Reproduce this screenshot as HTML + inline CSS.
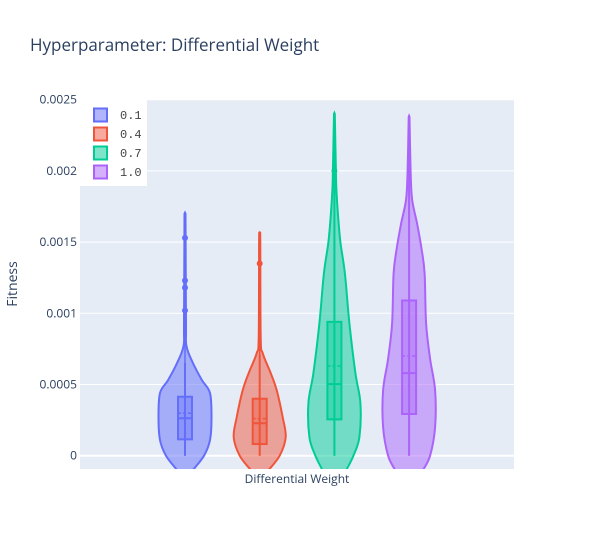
<!DOCTYPE html>
<html><head><meta charset="utf-8"><style>
body{margin:0;background:#fff;}
svg{display:block;font-family:"Open Sans","Liberation Sans",sans-serif;}
</style></head><body>
<svg id="chart" width="594" height="550" viewBox="0 0 594 550">
<rect x="0" y="0" width="594" height="550" fill="#fff"/>
<text x="30" y="51" font-size="17" fill="#2a3f5f">Hyperparameter: Differential Weight</text>
<rect x="80" y="100" width="434" height="369" fill="#e5ecf6"/>
<defs><clipPath id="pc"><rect x="80" y="100" width="434" height="369"/></clipPath></defs>
<g id="grid"></g>
<g id="violins" clip-path="url(#pc)"></g>
<g id="legend"></g>
<text x="297" y="483" font-size="12" fill="#2a3f5f" text-anchor="middle">Differential Weight</text>
<text x="17" y="284" font-size="14" fill="#2a3f5f" text-anchor="middle" transform="rotate(-90 17 284)">Fitness</text>
</svg>
<script>
const categories = ["0.1","0.4","0.7","1.0"];
const colors = ["#636efa","#ef553b","#00cc96","#ab63fa"];
const yTicks = [0,0.0005,0.001,0.0015,0.002,0.0025];
const yTickLabels = ["0","0.0005","0.001","0.0015","0.002","0.0025"];
// violin density profiles: values and relative half-widths
const profVals = [
 [-0.0001,0,0.00011,0.00027,0.00044,0.00053,0.00065,0.00077,0.00093,0.0017],
 [-0.0001,0,0.00013,0.00027,0.00046,0.00058,0.00072,0.00083,0.0015,0.00155],
 [-0.0001,0,0.00013,0.00037,0.00058,0.00093,0.00128,0.0015,0.0017,0.00187,0.002,0.0024],
 [-0.0001,0,0.0002,0.00046,0.00068,0.00093,0.00128,0.00145,0.00163,0.0018,0.002,0.00238]
];
const profDens = [
 [8,19,25,26.5,25,17,8,1.5,1,0.5],
 [9,20,26,23,17,11,3,1,0.6,0.3],
 [12,19,25,26,21,15,10.5,6,3.5,2,1.5,0.4],
 [14,21,26,26,21,17,15.5,12.5,8,3,1.5,0.4]
];
const q1 = [0.000115,0.000082,0.000255,0.000293];
const medians = [0.000263,0.000228,0.000503,0.00058];
const q3 = [0.000414,0.0004,0.00094,0.00109];
const means = [0.000298,0.00026,0.00063,0.0007];
const whiskLo = [0,0,0,0];
const whiskHi = [0.00065,0.00071,0.0024,0.00238];
const lineTop = [0.0017,0.00155,0.0024,0.00238];
const outliers = [[0.00153,0.00123,0.00118,0.00102],[0.00135],[0.002],[]];

const NS="http://www.w3.org/2000/svg";
const y = v => 455.7 - v/0.0005*71.2;
const xc = i => 185 + i*74.7;
function mk(tag, attrs, parent){const e=document.createElementNS(NS,tag);for(const k in attrs)e.setAttribute(k,attrs[k]);parent.appendChild(e);return e;}
const grid=document.getElementById('grid');
yTicks.forEach((t,i)=>{
  if(i>0){const l=mk('line',{x1:80,x2:514,y1:y(t),y2:y(t),stroke:'#fff','stroke-width':1},grid);
  
  }
  const tx=mk('text',{x:77,y:y(t)+4,'font-size':12,fill:'#2a3f5f','text-anchor':'end'},grid);
  tx.textContent=yTickLabels[i];
  
  
});
const zl=mk('line',{x1:80,x2:514,y1:y(0),y2:y(0),stroke:'#fff','stroke-width':2},grid);



function smooth(pts){
  let d=`M${pts[0][0]},${pts[0][1]}`;
  for(let i=0;i<pts.length-1;i++){
    const p0=pts[Math.max(i-1,0)],p1=pts[i],p2=pts[i+1],p3=pts[Math.min(i+2,pts.length-1)];
    const c1=[p1[0]+(p2[0]-p0[0])/6,p1[1]+(p2[1]-p0[1])/6];
    const c2=[p2[0]-(p3[0]-p1[0])/6,p2[1]-(p3[1]-p1[1])/6];
    d+=` C${c1[0]},${c1[1]} ${c2[0]},${c2[1]} ${p2[0]},${p2[1]}`;
  }
  return d;
}
const vg=document.getElementById('violins');
categories.forEach((c,i)=>{
  const cx=xc(i), col=colors[i];
  const g=mk('g',{},vg);
  
  
  const vals=profVals[i], dens=profDens[i];
  const right=vals.map((v,k)=>[cx+dens[k],y(v)]);
  const left=vals.map((v,k)=>[cx-dens[k],y(v)]).reverse();
  let d=smooth(right);
  d+=` L${cx},${y(vals[vals.length-1])-1} L${left[0][0]},${left[0][1]}`;
  d+=smooth(left).replace(/^M[^C]*/,' ');
  d+=` L${cx},${y(vals[0])+4} Z`;
  mk('path',{d:d,fill:col,'fill-opacity':0.5,stroke:col,'stroke-width':2},g);
  mk('line',{x1:cx,x2:cx,y1:y(lineTop[i]),y2:y(whiskLo[i]),stroke:col,'stroke-width':1.5},g);
  mk('line',{x1:cx,x2:cx,y1:y(whiskHi[i]),y2:y(whiskLo[i]),stroke:col,'stroke-width':2},g);
  const b=mk('rect',{x:cx-7,y:y(q3[i]),width:14,height:y(q1[i])-y(q3[i]),fill:col,'fill-opacity':0.4,stroke:col,'stroke-width':2},g);
  
  
  mk('line',{x1:cx-7,x2:cx+7,y1:y(medians[i]),y2:y(medians[i]),stroke:col,'stroke-width':2},g);
  mk('line',{x1:cx-7,x2:cx+7,y1:y(means[i]),y2:y(means[i]),stroke:col,'stroke-width':1.5,'stroke-dasharray':'3,2'},g);
  outliers[i].forEach(o=>{
    const p=mk('circle',{cx:cx,cy:y(o),r:3,fill:col},g);
    
    
  });
});
const lg=document.getElementById('legend');
mk('rect',{x:80,y:100,width:67,height:86,fill:'#fff'},lg);
categories.forEach((c,i)=>{
  const yy=115+i*19;
  const it=mk('g',{},lg);
  
  
  mk('rect',{x:94,y:yy-6.5,width:13,height:13,fill:colors[i],'fill-opacity':0.5,stroke:colors[i],'stroke-width':2},it);
  const t=mk('text',{x:120,y:yy+4,'font-size':12,fill:'#444','font-family':'"Liberation Mono",monospace'},it);
  t.textContent=c;
});
</script>
</body></html>
